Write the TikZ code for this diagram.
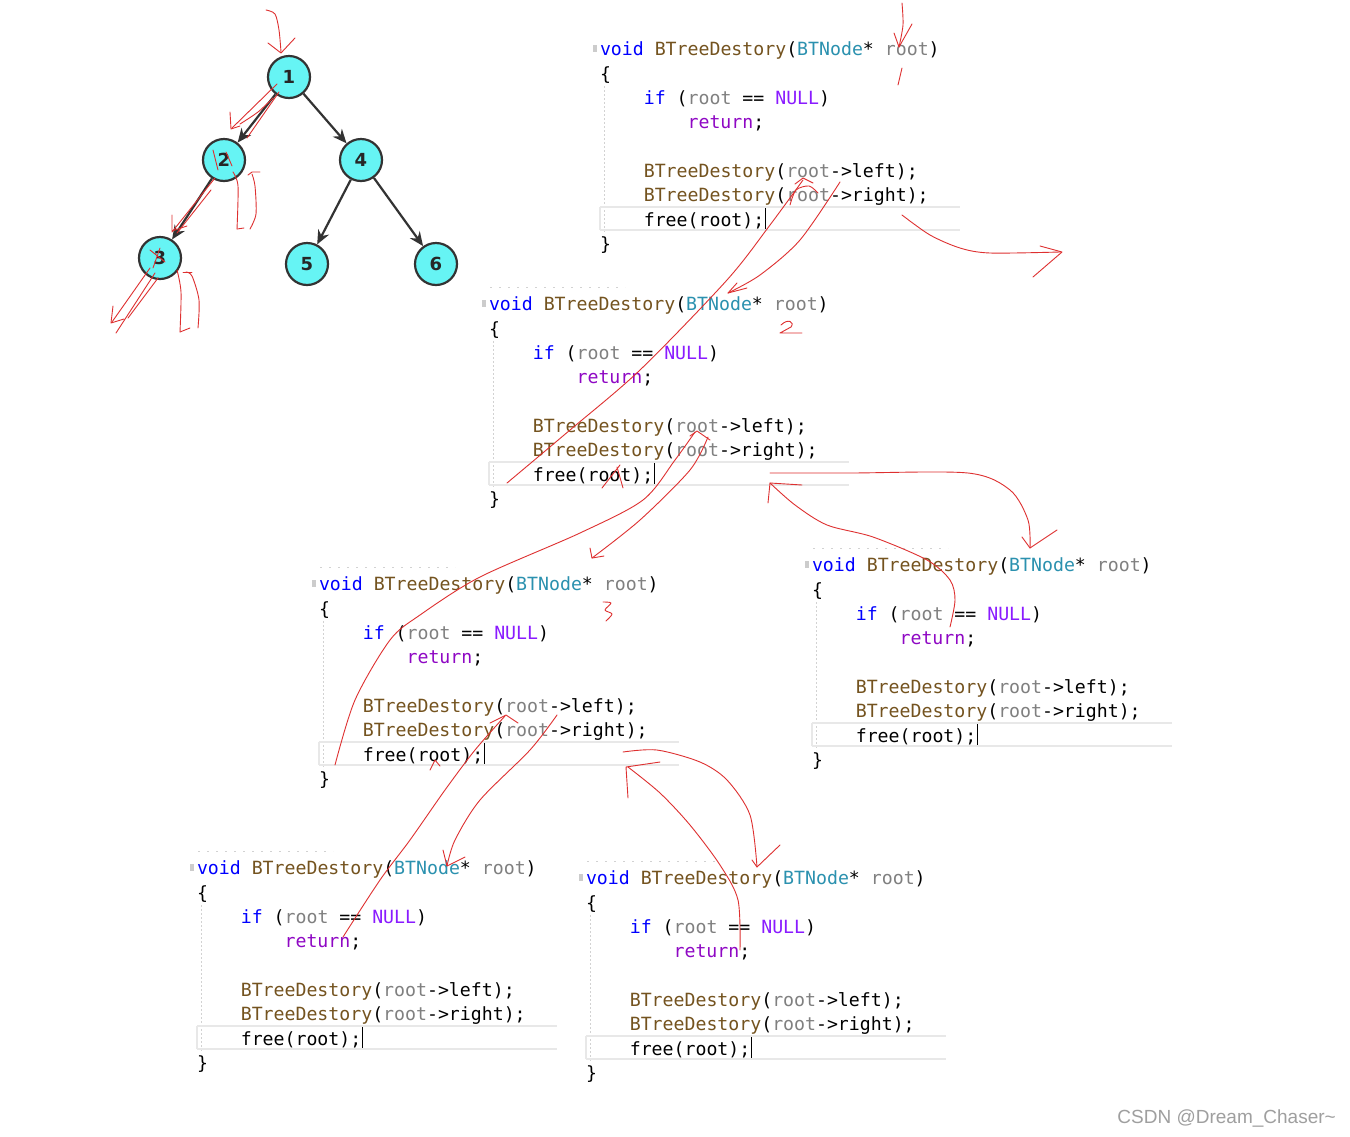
\documentclass[tikz,border=0pt]{standalone}
\usepackage{fontspec}
\usetikzlibrary{arrows.meta}
\newfontfamily\codefont{DejaVu Sans Mono}
\newfontfamily\uifont{Liberation Sans}
\newfontfamily\digfont{DejaVu Sans}
\definecolor{kwblue}{HTML}{0000FF}
\definecolor{fnbrown}{HTML}{74531F}
\definecolor{tyteal}{HTML}{2B91AF}
\definecolor{prgray}{HTML}{808080}
\definecolor{mcpurple}{HTML}{8A1BFF}
\definecolor{rtpurple}{HTML}{8F08C4}
\definecolor{penred}{RGB}{222,48,48}
\definecolor{nodefill}{RGB}{102,244,244}
\definecolor{edgegray}{HTML}{333333}
\newcommand\kwv[1]{\textcolor{kwblue}{#1}}
\newcommand\fnc[1]{\textcolor{fnbrown}{#1}}
\newcommand\typ[1]{\textcolor{tyteal}{#1}}
\newcommand\prm[1]{\textcolor{prgray}{#1}}
\newcommand\mac[1]{\textcolor{mcpurple}{#1}}
\newcommand\ret[1]{\textcolor{rtpurple}{#1}}
\newcommand\codeblock[3]{%
\begin{scope}[shift={(#2,#3)}]
 \fill[gray!40] (-7,-3) rectangle (-3,4);
 \draw[guide] (4,38) -- (4,186);
 \draw[hl] (0,159) -- (360,159) (0,182) -- (360,182) (0,159) -- (0,182);
 \node[code] (#1a) at (0,7) {\kwv{void} \fnc{BTreeDestory}(\typ{BTNode}* \prm{root})};
 \node[code] (#1b) at (0,32) {\{};
 \node[code] (#1c) at (43.8,56) {\kwv{if} (\prm{root} == \mac{NULL})};
 \node[code] (#1d) at (87.6,80) {\ret{return};};
 \node[code] (#1e) at (43.8,129) {\fnc{BTreeDestory}(\prm{root}->left);};
 \node[code] (#1f) at (43.8,153) {\fnc{BTreeDestory}(\prm{root}->right);};
 \node[code] (#1g) at (43.8,178) {free(root);};
 \node[code] (#1h) at (0,202) {\}};
 \draw[cursor] (165.5,160) -- (165.5,181);
\end{scope}}
\begin{document}
\begin{tikzpicture}[x=1pt,y=-1pt,
  code/.style={anchor=base west, inner sep=0pt, outer sep=0pt, font=\codefont\fontsize{18.2}{22}\selectfont, text=black},
  guide/.style={draw=gray!35, line width=0.8pt, dash pattern=on 2pt off 2pt},
  hl/.style={draw=gray!18, line width=1.3pt},
  cursor/.style={draw=black, line width=0.9pt},
  hdots/.style={draw=gray!35, line width=0.9pt, dash pattern=on 2pt off 7pt},
  tn/.style={circle, draw=edgegray, line width=2.2pt, fill=nodefill, minimum size=42pt, inner sep=0pt, font=\digfont\bfseries\fontsize{18}{18}\selectfont, text=black!85},
  te/.style={draw=edgegray, line width=2.2pt, -{Stealth[length=14pt,width=12pt]}},
  pen/.style={draw=penred, line width=0.9pt, line cap=round, line join=round}]
\fill[white] (0,0) rectangle (1350,1136);
\useasboundingbox (0,0) rectangle (1350,1136);

% ---------- tree ----------
\node[tn] (n1) at (289,77) {1};
\node[tn] (n2) at (224,160) {2};
\node[tn] (n4) at (361,160) {4};
\node[tn] (n3) at (160,258) {3};
\node[tn] (n5) at (307,264) {5};
\node[tn] (n6) at (436,264) {6};
\draw[te] (n1) -- (n2);
\draw[te] (n1) -- (n4);
\draw[te] (n2) -- (n3);
\draw[te] (n4) -- (n5);
\draw[te] (n4) -- (n6);

% ---------- code blocks ----------
\codeblock{A}{600}{48}
\codeblock{B}{489}{303}
\codeblock{C}{319}{583}
\codeblock{D}{812}{564}
\codeblock{E}{197}{867}
\codeblock{F}{586}{877}
\draw[hdots] (490,287) -- (625,287);
\draw[hdots] (320,567) -- (455,567);
\draw[hdots] (813,548) -- (948,548);
\draw[hdots] (198,851) -- (333,851);
\draw[hdots] (587,861) -- (722,861);

% ---------- watermark ----------
\node[anchor=east, inner sep=0pt, font=\uifont\fontsize{19}{19}\selectfont, text=gray!75] (wm) at (1336,1118) {CSDN @Dream\_Chaser\textasciitilde};

% ---------- red hand-drawn strokes ----------
% tree
\draw[pen] plot[smooth] coordinates {(266,10) (275,14) (279,30) (281,52)};
\draw[pen] (268,43) -- (281,53) -- (295,38);
\draw[pen] (277,84) -- (232,128);
\draw[pen] (279,92) -- (247,138);
\draw[pen] plot[smooth] coordinates {(273,98) (258,112) (240,124)};
\draw[pen] (230,112) -- (231,129) -- (240,126);
\draw[pen] (213,150) -- (218,170);
\draw[pen] (226,152) -- (232,166);
\draw[pen] (215,178) -- (172,232);
\draw[pen] (211,190) -- (177,233);
\draw[pen] (172,215) -- (172,231) -- (187,226);
\draw[pen] plot[smooth] coordinates {(233,172) (238,186) (237,229)};
\draw[pen] (237,229) -- (244,228);
\draw[pen] plot[smooth] coordinates {(250,229) (256,214) (255,186) (252,174)};
\draw[pen] (248,175) -- (252,172) -- (260,172);
\draw[pen] (150,250) -- (165,262);
\draw[pen] (153,268) -- (160,248);
\draw[pen] (150,268) -- (112,322);
\draw[pen] (155,273) -- (116,333);
\draw[pen] (158,278) -- (128,318);
\draw[pen] (113,306) -- (111,323) -- (124,319);
\draw[pen] plot[smooth] coordinates {(177,270) (181,292) (180,332)};
\draw[pen] (180,332) -- (190,328);
\draw[pen] plot[smooth] coordinates {(198,328) (199,300) (192,276) (186,272)};
\draw[pen] (183,272) -- (192,272);
% block A
\draw[pen] plot[smooth] coordinates {(902,3) (903,25) (899,47)};
\draw[pen] (894,33) -- (899,47) -- (912,24);
\draw[pen] (902,68) -- (898,85);
\draw[pen] plot[smooth] coordinates {(803,180) (770,225) (727,280) (640,370) (570,430) (507,483)};
\draw[pen] (795,184) -- (803,178) -- (813,183);
\draw[pen] plot[smooth] coordinates {(790,205) (796,190) (809,186) (818,193)};
\draw[pen] plot[smooth] coordinates {(840,182) (800,240) (760,275) (728,293)};
\draw[pen] (737,283) -- (728,293) -- (747,288);
\draw[pen] plot[smooth] coordinates {(902,215) (930,235) (960,248) (990,253) (1060,252)};
\draw[pen] (1040,246) -- (1062,252) -- (1033,277);
\draw[pen] (781,325) .. controls (788,318) and (795,322) .. (791,327) -- (780,333) -- (802,333);
% block B
\draw[pen] plot[smooth] coordinates {(695,432) (675,460) (643,500) (580,533) (480,577) (420,615) (390,640) (355,700) (335,765)};
\draw[pen] (690,436) -- (697,431) -- (710,440);
\draw[pen] plot[smooth] coordinates {(708,437) (690,470) (640,520) (592,558)};
\draw[pen] (590,548) -- (592,558) -- (604,556);
\draw[pen] (602,488) -- (620,465);
\draw[pen] (617,467) -- (623,488);
% block D
\draw[pen] plot[smooth] coordinates {(770,473) (850,473) (968,473) (1010,490) (1028,520) (1030,548)};
\draw[pen] (1022,537) -- (1030,548) -- (1057,530);
\draw[pen] plot[smooth] coordinates {(950,627) (955,600) (950,580) (927,560) (873,537) (827,525) (795,505) (770,483)};
\draw[pen] (768,503) -- (770,483) -- (802,485);
% block C
\draw[pen] plot[smooth] coordinates {(603,602) (611,603) (605,610) (612,614) (606,621)};
\draw[pen] plot[smooth] coordinates {(505,716) (475,750) (445,790) (410,840) (380,880) (343,937)};
\draw[pen] (490,723) -- (506,715) -- (518,723);
\draw[pen] plot[smooth] coordinates {(557,715) (530,750) (480,800) (455,840) (447,866)};
\draw[pen] (443,850) -- (447,866) -- (465,857);
\draw[pen] (430,770) -- (435,760) -- (440,766);
\draw[pen] plot[smooth] coordinates {(623,752) (657,750) (700,762) (727,780) (750,815) (757,867)};
\draw[pen] (752,860) -- (757,867) -- (780,845);
\draw[pen] plot[smooth] coordinates {(740,950) (738,900) (720,865) (690,825) (660,793) (628,767)};
\draw[pen] (628,798) -- (626,767) -- (660,762);
\end{tikzpicture}
\end{document}
